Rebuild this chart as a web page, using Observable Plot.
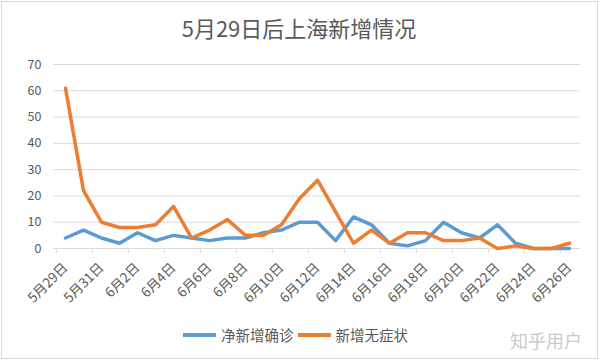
<!DOCTYPE html>
<html>
<head>
<meta charset="utf-8">
<script src="https://cdn.jsdelivr.net/npm/d3@7"></script>
<script src="https://cdn.jsdelivr.net/npm/@observablehq/plot@0.6"></script>
<style>
  body { margin: 0; background: #fff; }
  #wrap { position: relative; width: 600px; height: 361px; overflow: hidden; font-family: "Noto Sans CJK SC", "Noto Sans", sans-serif; }
  #frame { position: absolute; left: 1px; top: 1px; right: 2px; bottom: 2px; border: 1px solid #d9d9d9; pointer-events: none; }
  #title { position: absolute; left: 0; width: 598px; top: 12px; text-align: center; font-size: 22px; color: #595959; line-height: 30px; }
  #legend { position: absolute; top: 324px; left: 183px; display: flex; align-items: center; font-size: 14.5px; color: #595959; line-height: 22px; }
  .sw { display: inline-block; width: 33px; height: 4px; margin-right: 5px; }
  .item { display: flex; align-items: center; margin-right: 4px; }
  #mark { position: absolute; left: 510px; top: 327px; font-size: 18px; color: #c9c9c9; letter-spacing: 0px; }
  #chart { position: absolute; left: 0; top: 0; }
</style>
</head>
<body>
<div id="wrap">
  <div id="chart"></div>
  <div id="title">5月29日后上海新增情况</div>
  <div id="legend"></div>
  <div id="mark">知乎用户</div>
  <div id="frame"></div>
</div>
<script>
const dates = ["5月29日","5月30日","5月31日","6月1日","6月2日","6月3日","6月4日","6月5日","6月6日","6月7日","6月8日","6月9日","6月10日","6月11日","6月12日","6月13日","6月14日","6月15日","6月16日","6月17日","6月18日","6月19日","6月20日","6月21日","6月22日","6月23日","6月24日","6月25日","6月26日"];
const confirmed = [4,7,4,2,6,3,5,4,3,4,4,6,7,10,10,3,12,9,2,1,3,10,6,4,9,2,0,0,0];
const asymptomatic = [61,22,10,8,8,9,16,4,7,11,5,5,9,19,26,14,2,7,2,6,6,3,3,4,0,1,0,0,2];
const seriesNames = ["净新增确诊","新增无症状"];
const colors = ["#5b9bd5","#ed7d31"];
const yTicks = [0,10,20,30,40,50,60,70];
const xTickLabels = dates.filter((d,i) => i % 2 === 0);

const rowsA = dates.map((d,i) => ({date: d, value: confirmed[i]}));
const rowsB = dates.map((d,i) => ({date: d, value: asymptomatic[i]}));

const W = 600, H = 361, mL = 53, mR = 20, mT = 64, mB = 113;
const step = (W - mL - mR) / dates.length;

const chart = Plot.plot({
  width: W, height: H,
  marginLeft: mL, marginRight: mR, marginTop: mT, marginBottom: mB,
  style: {fontFamily: '"Noto Sans CJK SC", "Noto Sans", sans-serif', fontSize: "12px", color: "#595959", background: "transparent"},
  x: {type: "point", domain: dates, padding: 0.5},
  y: {domain: [0,70]},
  marks: [
    Plot.gridY(yTicks, {stroke: "#d9d9d9", strokeOpacity: 1, strokeWidth: 1}),
    Plot.ruleY([0], {stroke: "#d9d9d9", strokeWidth: 1}),
    Plot.axisY({ticks: yTicks, tickSize: 0, tickPadding: 12, label: null, fill: "#595959", fontSize: 12.5}),
    Plot.axisX({ticks: xTickLabels, tickSize: 5, tickFormat: () => "", dx: -step / 2, stroke: "#d9d9d9", label: null}),
    Plot.axisX({ticks: xTickLabels, tickSize: 0, tickPadding: 17, tickRotate: -45, label: null, fill: "#595959", fontSize: 13.5}),
    Plot.lineY(rowsA, {x: "date", y: "value", stroke: colors[0], strokeWidth: 3.5, strokeLinejoin: "round", strokeLinecap: "round"}),
    Plot.lineY(rowsB, {x: "date", y: "value", stroke: colors[1], strokeWidth: 3.5, strokeLinejoin: "round", strokeLinecap: "round"})
  ]
});
document.getElementById("chart").appendChild(chart);

const legend = document.getElementById("legend");
seriesNames.forEach((name, i) => {
  const item = document.createElement("div");
  item.className = "item";
  const sw = document.createElement("span");
  sw.className = "sw";
  sw.style.background = colors[i];
  item.appendChild(sw);
  const t = document.createElement("span");
  t.textContent = name;
  item.appendChild(t);
  legend.appendChild(item);
});
</script>
</body>
</html>
